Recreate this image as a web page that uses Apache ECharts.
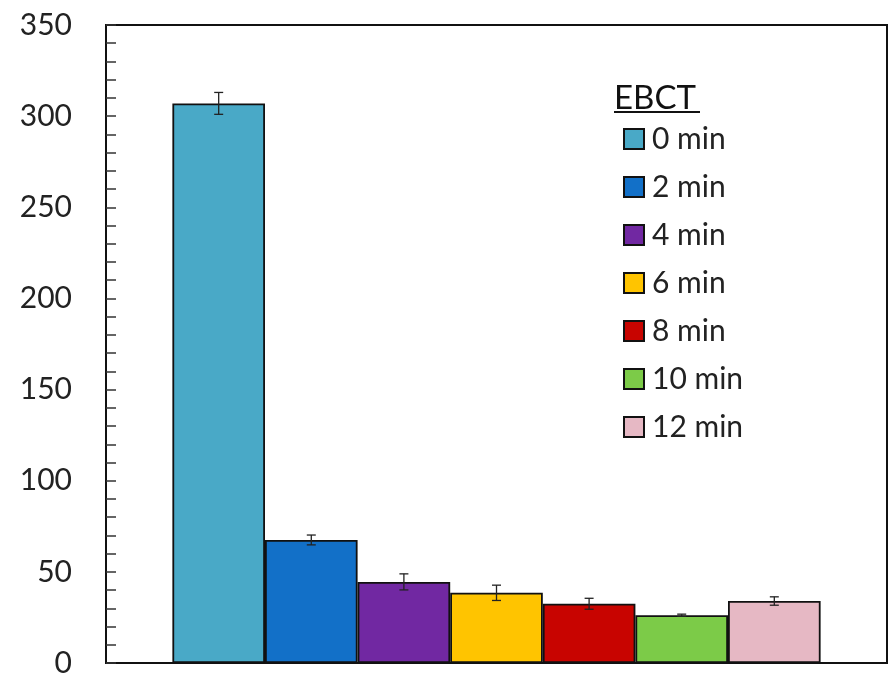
<!DOCTYPE html>
<html>
<head>
<meta charset="utf-8">
<script src="https://cdn.jsdelivr.net/npm/echarts@6/dist/echarts.min.js"></script>
<style>
  html, body { margin: 0; padding: 0; background: #fff; }
  #chart { width: 891px; height: 678px; }
</style>
</head>
<body>
<div id="chart"></div>
<script>
// EBCT groups, mean values and error half-widths
const ebctLabels = ['0 min', '2 min', '4 min', '6 min', '8 min', '10 min', '12 min'];
const meanValues = [307, 67.5, 44.5, 38.5, 32.5, 26.2, 34];
const errorValues = [6, 2.7, 4.4, 4.2, 3, 0.6, 2.3];
const barColors = ['#49A9C7', '#1270C8', '#7128A2', '#FFC400', '#C80400', '#7CCB48', '#E6B8C4'];
const yTicks = { min: 0, max: 350, interval: 50 };

const CATEGORY_GAP = '17%';
const font = 'Lato, "Open Sans", sans-serif';

const chart = echarts.init(document.getElementById('chart'), null, { renderer: 'canvas' });

const barSeries = ebctLabels.map((name, i) => ({
  name: name,
  type: 'bar',
  data: [meanValues[i]],
  barGap: '0%',
  barCategoryGap: CATEGORY_GAP,
  itemStyle: { color: barColors[i], borderColor: '#111', borderWidth: 1.8 },
  emphasis: { disabled: true },
  z: 2
}));

// error bars placed on the bar centres computed by the library's bar layout
const errorSeries = {
  type: 'custom',
  name: 'error',
  silent: true,
  z: 5,
  data: ebctLabels.map((n, i) => [0, meanValues[i], errorValues[i], i]),
  renderItem: function (params, api) {
    const layout = api.barLayout({ barGap: '0%', barCategoryGap: CATEGORY_GAP, count: ebctLabels.length });
    const idx = api.value(3);
    const v = api.value(1), e = api.value(2);
    const base = api.coord([api.value(0), v]);
    const cx = base[0] + layout[idx].offsetCenter;
    const yHi = api.coord([api.value(0), v + e])[1];
    const yLo = api.coord([api.value(0), v - e])[1];
    const cap = 4.5;
    const style = { stroke: '#222', lineWidth: 1.3 };
    return {
      type: 'group',
      children: [
        { type: 'line', shape: { x1: cx, y1: yHi, x2: cx, y2: yLo }, style: style },
        { type: 'line', shape: { x1: cx - cap, y1: yHi, x2: cx + cap, y2: yHi }, style: style },
        { type: 'line', shape: { x1: cx - cap, y1: yLo, x2: cx + cap, y2: yLo }, style: style }
      ]
    };
  }
};

chart.setOption({
  backgroundColor: '#fff',
  animation: false,
  grid: {
    left: 106, right: 4, top: 25, bottom: 13,
    show: true, borderColor: '#111', borderWidth: 2, backgroundColor: '#fff'
  },
  xAxis: {
    type: 'category',
    data: [''],
    axisLine: { show: true, lineStyle: { color: '#111', width: 2 } },
    axisTick: { show: false },
    axisLabel: { show: false },
    splitLine: { show: false }
  },
  yAxis: {
    type: 'value',
    min: yTicks.min,
    max: yTicks.max,
    interval: yTicks.interval,
    axisLine: { show: true, lineStyle: { color: '#111', width: 2 } },
    axisTick: { show: true, inside: true, length: 10, lineStyle: { color: '#333', width: 1.5 } },
    minorTick: { show: true, splitNumber: 5, length: 10, lineStyle: { color: '#333', width: 1.5 } },
    splitLine: { show: false },
    axisLabel: { color: '#222', fontSize: 30, fontFamily: font, margin: 34 }
  },
  legend: {
    data: ebctLabels,
    orient: 'vertical',
    left: 618,
    top: 118,
    itemWidth: 20,
    itemHeight: 20,
    itemGap: 16,
    icon: 'rect',
    textStyle: { color: '#222', fontSize: 30, fontFamily: font, lineHeight: 32, padding: [0, 0, 0, 3] },
    selectedMode: false
  },
  title: {
    text: 'EBCT',
    left: 609,
    top: 77,
    textStyle: { color: '#111', fontSize: 33, fontWeight: 'normal', fontFamily: font }
  },
  graphic: [{
    type: 'line',
    shape: { x1: 614, y1: 112, x2: 700, y2: 112 },
    style: { stroke: '#111', lineWidth: 2 }
  }],
  series: barSeries.concat([errorSeries])
});
</script>
</body>
</html>
